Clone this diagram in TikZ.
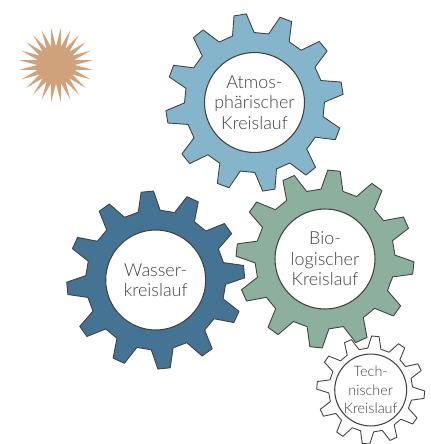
\documentclass[tikz,border=0pt]{standalone}
\usepackage{fontspec}
\setmainfont{Lato Light}
\usetikzlibrary{shapes.geometric}
\definecolor{atmoscol}{HTML}{85B5CB}
\definecolor{wassercol}{HTML}{457394}
\definecolor{biocol}{HTML}{8CAF9E}
\definecolor{suncol}{HTML}{CFA27C}
\definecolor{linecol}{HTML}{404040}
\tikzset{
  gearline/.style={draw=linecol,line width=0.5pt,line join=round},
  hub/.style={circle,draw=linecol,line width=0.6pt,fill=white,inner sep=0pt,align=center,
    text=linecol,font=\fontsize{10.2}{11.6}\selectfont},
  sunburst/.style={star,star points=24,star point ratio=2,shape border rotate=7.5,
    fill=suncol,inner sep=0pt,minimum size=1.5cm}
}
% #1 centre, #2 fill, #3 angle of first tooth, #4 size of tooth tips, #5 root
\newcommand{\gearwheel}[5]{
  \draw[gearline,fill=#2,shift={#1}] ({#3-9}:#5)
    \foreach \k in {0,...,11} {
      -- ({#3+30*\k-4}:#4) -- ({#3+30*\k+4}:#4) -- ({#3+30*\k+9}:#5) -- ({#3+30*\k+21}:#5)
    } -- cycle;
}
\begin{document}
\begin{tikzpicture}[x=0.02cm,y=0.02cm]
\useasboundingbox (0,0) rectangle (431,444);
\node[sunburst] (sun) at (56,379) {};
\gearwheel{(254.5,341.5)}{atmoscol}{99.3}{89}{70}
\gearwheel{(155.7,164)}{wassercol}{95.4}{89}{70}
\gearwheel{(325,185)}{biocol}{84.2}{89}{70}
\gearwheel{(370.7,54)}{white}{85}{54}{42}
\node[hub,minimum size=2cm] (atmos) at (254.5,341.5) {Atmos-\\phärischer\\Kreislauf};
\node[hub,minimum size=2cm] (wasser) at (155.7,164) {Wasser-\\kreislauf};
\node[hub,minimum size=2cm] (bio) at (325,185) {Bio-\\logischer\\Kreislauf};
\node[hub,minimum size=1.22cm,font=\fontsize{8.2}{10.6}\selectfont] (tech) at (370.7,54) {Tech-\\nischer\\Kreislauf};
\end{tikzpicture}
\end{document}
